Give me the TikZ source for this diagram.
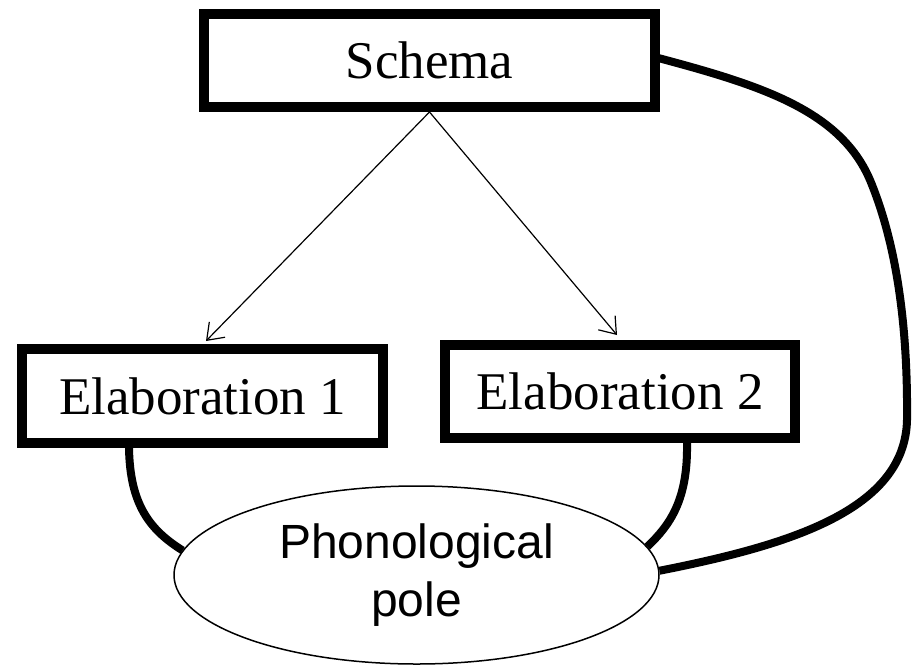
\documentclass[tikz,border=0pt]{standalone}
\usepackage{fontspec}
\setmainfont{Liberation Serif}
\newfontfamily\arialfont{Liberation Sans}
\usetikzlibrary{shapes.geometric,arrows.meta,calc}
\pgfdeclarelayer{paper}
\pgfdeclarelayer{background}
\pgfsetlayers{paper,background,main}
\tikzset{
  boxnode/.style={draw=black, line width=10pt, fill=white, inner sep=0pt,
    font=\fontsize{53}{60}\selectfont},
  polenode/.style={draw=black, ellipse, line width=1.5pt, fill=white, inner sep=0pt,
    minimum width=485pt, minimum height=178pt, align=center,
    font=\arialfont\fontsize{48}{58}\selectfont},
  thinarrow/.style={line width=1.2pt, -{Straight Barb[length=15pt,width=22pt]}},
  thickline/.style={line width=8pt},
}
\begin{document}
\begin{tikzpicture}[x=1pt,y=-1pt]
\begin{pgfonlayer}{paper}
\fill[white] (0,0) rectangle (918,664);
\end{pgfonlayer}
\useasboundingbox (0,0) rectangle (918,664);

\node[boxnode, minimum width=451pt, minimum height=93pt] (s) at (429.5,60.5) {Schema};
\node[boxnode, minimum width=361pt, minimum height=94pt] (e1) at (202.5,396) {Elaboration 1};
\node[boxnode, minimum width=350pt, minimum height=93pt] (e2) at (620,391.5) {Elaboration 2};
\node[polenode] (ph) at (416.5,575) {Phonological\\pole};

\draw[thinarrow] (s.south) -- ($(e1.north west)+(189,-3)$);
\draw[thinarrow] (s.south) -- ($(e2.north west)+(177,-5)$);

\begin{pgfonlayer}{background}
\draw[thickline] ([xshift=112pt]e1.south west) .. controls (130,505) and (150,530) .. (ph.174);
\draw[thickline] ([xshift=247pt]e2.south west) .. controls (688,500) and (670,525) .. (ph.7);
\draw[thickline, -{Latex[length=10pt,width=13pt]}] (ph.1)
  .. controls (790,545) and (905,510) .. (907,420)
  .. controls (908,320) and (895,240) .. (870,180)
  .. controls (840,110) and (760,85) .. ([xshift=-13pt,yshift=5.5pt]s.east);
\end{pgfonlayer}
\end{tikzpicture}
\end{document}
